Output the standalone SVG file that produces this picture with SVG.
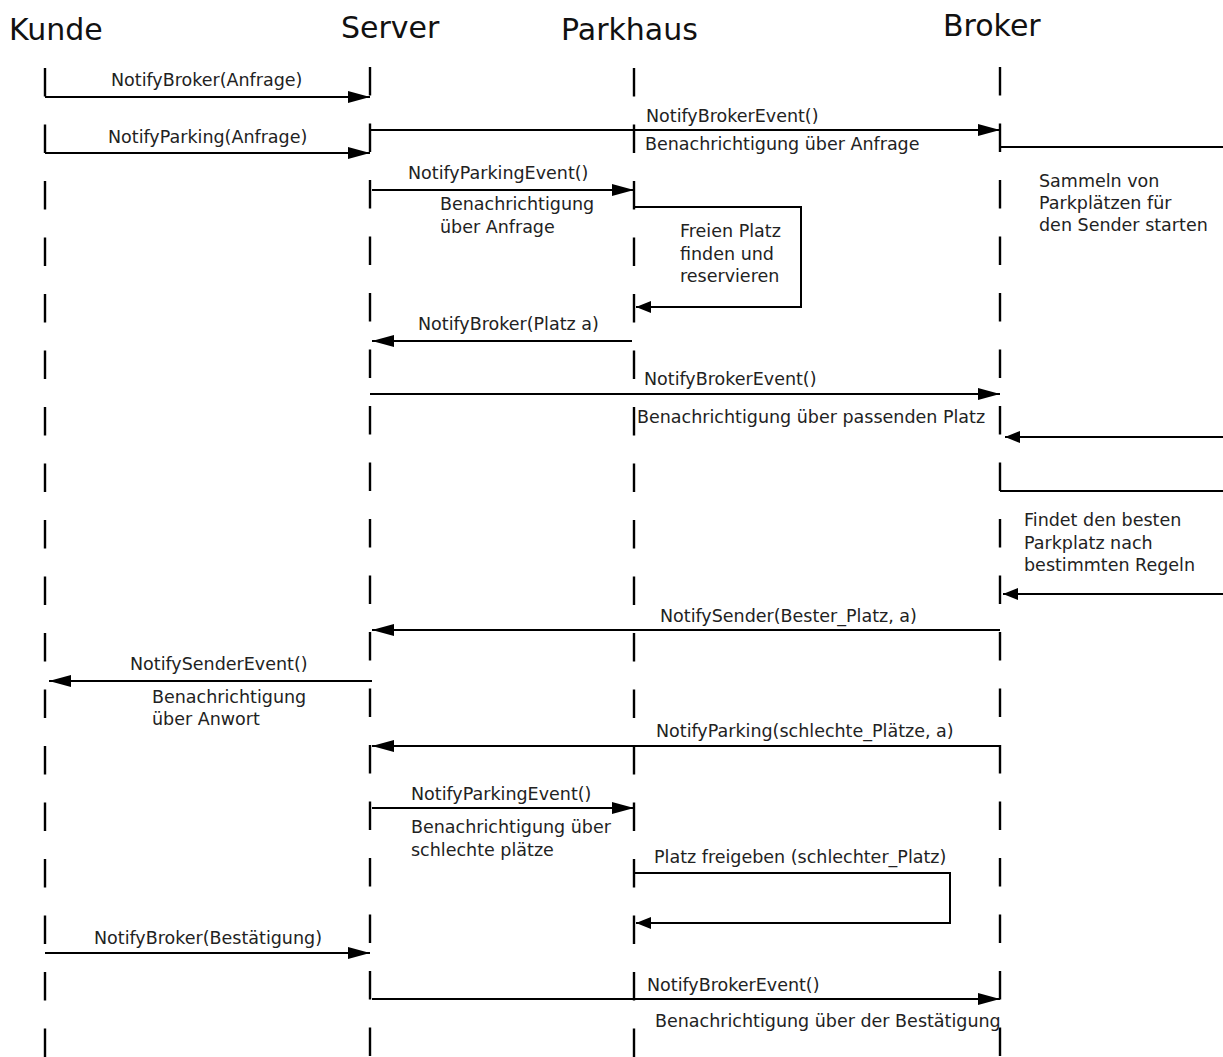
<svg xmlns="http://www.w3.org/2000/svg" width="1223" height="1057" viewBox="0 0 1223 1057">
  <style>
    .head { font-family: "DejaVu Sans", sans-serif; font-size: 30px; fill: #111; }
    .lbl { font-family: "DejaVu Sans", sans-serif; font-size: 17.5px; fill: #222; }
    .life { stroke: #000; stroke-width: 2.4; stroke-dasharray: 28.5 28; fill: none; }
    .msg { stroke: #000; stroke-width: 2; fill: none; }
    .call { marker-end: url(#head); }
    .ret { marker-end: url(#headSmall); }
  </style>
  <defs>
    <marker id="head" markerUnits="userSpaceOnUse" markerWidth="22" markerHeight="12" viewBox="0 0 22 12" refX="22" refY="6" orient="auto">
      <path d="M0,0 L22,6 L0,12 Z" fill="#000"/>
    </marker>
    <marker id="headSmall" markerUnits="userSpaceOnUse" markerWidth="15" markerHeight="12" viewBox="0 0 15 12" refX="15" refY="6" orient="auto">
      <path d="M0,0 L15,6 L0,12 Z" fill="#000"/>
    </marker>
  </defs>
  <rect width="1223" height="1057" fill="#fff"/>

  <!-- lifelines with their headers -->
  <g id="kunde">
    <text class="head" x="9" y="40">Kunde</text>
    <line class="life" x1="45" y1="68" x2="45" y2="1057"/>
  </g>
  <g id="server">
    <text class="head" x="341" y="38">Server</text>
    <line class="life" x1="370" y1="67" x2="370" y2="1057"/>
  </g>
  <g id="parkhaus">
    <text class="head" x="561" y="40">Parkhaus</text>
    <line class="life" x1="634" y1="68" x2="634" y2="1057"/>
  </g>
  <g id="broker">
    <text class="head" x="943" y="36">Broker</text>
    <line class="life" x1="1000" y1="67" x2="1000" y2="1057"/>
  </g>

  <!-- messages -->
  <g id="connectors">
    <line class="msg call" x1="45" y1="97" x2="370" y2="97"/>
    <text class="lbl" x="111" y="86">NotifyBroker(Anfrage)</text>

    <line class="msg call" x1="370" y1="130" x2="1000" y2="130"/>
    <text class="lbl" x="646" y="122">NotifyBrokerEvent()</text>
    <text class="lbl" x="645" y="150">Benachrichtigung über Anfrage</text>

    <line class="msg call" x1="45" y1="153" x2="370" y2="153"/>
    <text class="lbl" x="108" y="143">NotifyParking(Anfrage)</text>

    <line class="msg" x1="1000" y1="147" x2="1223" y2="147"/>
    <text class="lbl" x="1039" y="187">Sammeln von</text>
    <text class="lbl" x="1039" y="209">Parkplätzen für</text>
    <text class="lbl" x="1039" y="231">den Sender starten</text>

    <line class="msg call" x1="372" y1="190" x2="634" y2="190"/>
    <text class="lbl" x="408" y="179">NotifyParkingEvent()</text>
    <text class="lbl" x="440" y="210">Benachrichtigung</text>
    <text class="lbl" x="440" y="233">über Anfrage</text>

    <path class="msg ret" d="M634,207 H801 V307 H636"/>
    <text class="lbl" x="680" y="237">Freien Platz</text>
    <text class="lbl" x="680" y="260">finden und</text>
    <text class="lbl" x="680" y="282">reservieren</text>

    <line class="msg call" x1="632" y1="341" x2="372" y2="341"/>
    <text class="lbl" x="418" y="330">NotifyBroker(Platz a)</text>

    <line class="msg call" x1="370" y1="394" x2="1000" y2="394"/>
    <text class="lbl" x="644" y="385">NotifyBrokerEvent()</text>
    <text class="lbl" x="637" y="423">Benachrichtigung über passenden Platz</text>

    <line class="msg ret" x1="1223" y1="437" x2="1005" y2="437"/>
    <line class="msg" x1="1000" y1="491" x2="1223" y2="491"/>
    <text class="lbl" x="1024" y="526">Findet den besten</text>
    <text class="lbl" x="1024" y="549">Parkplatz nach</text>
    <text class="lbl" x="1024" y="571">bestimmten Regeln</text>
    <line class="msg ret" x1="1223" y1="594" x2="1003" y2="594"/>

    <line class="msg call" x1="1000" y1="630" x2="372" y2="630"/>
    <text class="lbl" x="660" y="622">NotifySender(Bester_Platz, a)</text>

    <line class="msg call" x1="372" y1="681" x2="49" y2="681"/>
    <text class="lbl" x="130" y="670">NotifySenderEvent()</text>
    <text class="lbl" x="152" y="703">Benachrichtigung</text>
    <text class="lbl" x="152" y="725">über Anwort</text>

    <line class="msg call" x1="1000" y1="746" x2="372" y2="746"/>
    <text class="lbl" x="656" y="737">NotifyParking(schlechte_Plätze, a)</text>

    <line class="msg call" x1="372" y1="808" x2="634" y2="808"/>
    <text class="lbl" x="411" y="800">NotifyParkingEvent()</text>
    <text class="lbl" x="411" y="833">Benachrichtigung über</text>
    <text class="lbl" x="411" y="856">schlechte plätze</text>

    <path class="msg ret" d="M634,873 H950 V923 H636"/>
    <text class="lbl" x="654" y="863">Platz freigeben (schlechter_Platz)</text>

    <line class="msg call" x1="45" y1="953" x2="370" y2="953"/>
    <text class="lbl" x="94" y="944">NotifyBroker(Bestätigung)</text>

    <line class="msg call" x1="372" y1="999" x2="1000" y2="999"/>
    <text class="lbl" x="647" y="991">NotifyBrokerEvent()</text>
    <text class="lbl" x="655" y="1027">Benachrichtigung über der Bestätigung</text>
  </g>
</svg>
